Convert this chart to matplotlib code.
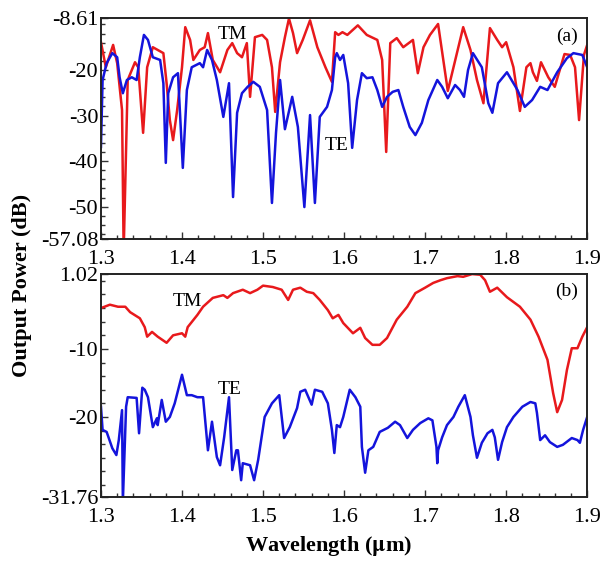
import matplotlib
matplotlib.use("Agg")
import matplotlib.pyplot as plt
from matplotlib.ticker import MultipleLocator, FixedLocator

# ---- panel (a): output power spectra ----
wl_a_tm = [1.300, 1.306, 1.315, 1.320, 1.326, 1.328, 1.333, 1.342, 1.346, 1.352,
           1.357, 1.364, 1.370, 1.377, 1.381, 1.385, 1.389, 1.394, 1.400, 1.404,
           1.410, 1.414, 1.422, 1.428, 1.432, 1.438, 1.447, 1.456, 1.462, 1.468,
           1.474, 1.480, 1.484, 1.490, 1.499, 1.505, 1.511, 1.515, 1.521, 1.527,
           1.532, 1.537, 1.542, 1.549, 1.558, 1.567, 1.577, 1.585, 1.589, 1.593,
           1.598, 1.604, 1.617, 1.628, 1.641, 1.647, 1.652, 1.657, 1.665, 1.673,
           1.685, 1.691, 1.698, 1.706, 1.716, 1.728, 1.747, 1.756, 1.764, 1.772,
           1.780, 1.789, 1.795, 1.800, 1.809, 1.817, 1.825, 1.830, 1.833, 1.838,
           1.843, 1.852, 1.860, 1.872, 1.879, 1.885, 1.890, 1.896, 1.900]
pw_a_tm = [-13.9, -19.4, -14.5, -18.5, -28.8, -60.0, -22.2, -18.3, -19.4, -33.8,
           -19.4, -15.0, -15.6, -16.3, -22.9, -31.0, -35.4, -28.8, -19.4, -10.6,
           -13.4, -17.8, -15.6, -15.0, -11.9, -17.8, -20.5, -15.6, -14.1, -16.3,
           -17.2, -14.1, -25.9, -12.8, -12.3, -13.4, -19.4, -29.2, -18.3, -12.8,
           -8.7, -11.9, -16.3, -13.4, -9.1, -15.0, -19.4, -22.6, -11.7, -12.3,
           -11.7, -12.3, -10.2, -12.3, -13.4, -17.8, -38.0, -14.1, -13.0, -15.0,
           -13.4, -20.7, -15.0, -12.3, -9.9, -24.6, -10.6, -15.6, -22.2, -27.3,
           -10.8, -13.4, -15.0, -13.9, -19.4, -29.0, -19.4, -18.5, -20.5, -22.4,
           -18.3, -21.6, -23.7, -16.5, -16.7, -19.4, -31.0, -16.7, -14.5]

wl_a_te = [1.300, 1.302, 1.307, 1.314, 1.320, 1.323, 1.327, 1.332, 1.338, 1.344,
           1.348, 1.353, 1.358, 1.364, 1.373, 1.377, 1.380, 1.383, 1.389, 1.395,
           1.401, 1.406, 1.412, 1.422, 1.426, 1.431, 1.437, 1.443, 1.451, 1.458,
           1.463, 1.468, 1.474, 1.481, 1.488, 1.496, 1.505, 1.511, 1.516, 1.521,
           1.527, 1.536, 1.543, 1.551, 1.558, 1.564, 1.570, 1.579, 1.585, 1.589,
           1.591, 1.595, 1.599, 1.605, 1.610, 1.616, 1.622, 1.628, 1.635, 1.641,
           1.647, 1.653, 1.660, 1.667, 1.673, 1.681, 1.688, 1.696, 1.704, 1.715,
           1.721, 1.728, 1.737, 1.743, 1.748, 1.753, 1.759, 1.770, 1.778, 1.783,
           1.790, 1.801, 1.814, 1.823, 1.832, 1.842, 1.851, 1.863, 1.875, 1.883,
           1.894, 1.900]
pw_a_te = [-36.9, -22.2, -18.5, -16.3, -17.2, -21.6, -25.1, -22.2, -21.6, -22.2,
           -17.2, -12.3, -13.4, -17.2, -17.8, -22.9, -40.4, -25.1, -21.6, -20.7,
           -41.5, -24.4, -19.4, -18.5, -19.4, -15.6, -17.8, -22.2, -30.3, -22.9,
           -47.9, -29.4, -25.1, -23.7, -22.6, -23.7, -28.8, -49.2, -33.8, -22.2,
           -33.0, -25.9, -32.5, -50.1, -29.9, -49.2, -30.3, -28.1, -24.4, -17.2,
           -16.3, -17.8, -16.7, -22.9, -37.1, -26.6, -20.7, -21.8, -21.6, -24.4,
           -28.1, -25.9, -24.8, -24.4, -28.1, -32.5, -34.3, -31.6, -26.6, -22.2,
           -23.7, -26.2, -23.3, -24.4, -25.9, -20.0, -16.3, -19.4, -27.3, -29.4,
           -22.9, -20.5, -24.4, -28.1, -26.6, -23.7, -24.4, -20.5, -17.4, -16.3,
           -16.7, -19.4]

# ---- panel (b): output power spectra ----
wl_b_tm = [1.300, 1.311, 1.321, 1.330, 1.336, 1.348, 1.354, 1.357, 1.363, 1.370,
           1.381, 1.389, 1.400, 1.404, 1.407, 1.419, 1.426, 1.438, 1.451, 1.456,
           1.463, 1.475, 1.484, 1.493, 1.500, 1.512, 1.523, 1.531, 1.537, 1.546,
           1.554, 1.562, 1.570, 1.580, 1.586, 1.593, 1.599, 1.611, 1.620, 1.626,
           1.635, 1.644, 1.653, 1.665, 1.678, 1.688, 1.700, 1.710, 1.719, 1.727,
           1.740, 1.747, 1.758, 1.768, 1.774, 1.780, 1.789, 1.801, 1.817, 1.830,
           1.840, 1.851, 1.858, 1.863, 1.869, 1.875, 1.881, 1.888, 1.894, 1.900]
pw_b_tm = [-4.0, -3.5, -3.8, -3.8, -4.6, -5.5, -6.8, -8.2, -7.5, -8.2,
           -9.1, -8.0, -7.7, -8.2, -6.8, -5.0, -3.8, -2.5, -2.1, -2.5,
           -1.8, -1.3, -1.8, -1.3, -0.7, -0.9, -1.3, -2.8, -1.3, -1.0,
           -1.6, -1.8, -2.8, -4.3, -5.5, -5.0, -6.2, -7.7, -6.9, -8.4,
           -9.4, -9.4, -8.4, -5.7, -3.8, -1.8, -1.0, -0.3, 0.1, 0.4,
           0.7, 0.6, 1.0, 0.9, 0.1, -1.6, -1.0, -2.4, -3.8, -5.7,
           -8.2, -11.6, -16.5, -19.3, -17.5, -13.1, -9.9, -9.9, -8.2, -6.8]

wl_b_te = [1.300, 1.302, 1.307, 1.314, 1.319, 1.322, 1.326, 1.327, 1.331, 1.333,
           1.344, 1.347, 1.351, 1.354, 1.358, 1.364, 1.369, 1.370, 1.375, 1.380,
           1.385, 1.391, 1.400, 1.406, 1.412, 1.419, 1.426, 1.432, 1.437, 1.443,
           1.447, 1.452, 1.458, 1.462, 1.467, 1.469, 1.473, 1.475, 1.484, 1.489,
           1.494, 1.502, 1.511, 1.520, 1.526, 1.533, 1.542, 1.546, 1.552, 1.556,
           1.560, 1.564, 1.573, 1.580, 1.585, 1.588, 1.591, 1.595, 1.599, 1.607,
           1.614, 1.620, 1.622, 1.626, 1.630, 1.636, 1.644, 1.654, 1.663, 1.669,
           1.678, 1.685, 1.694, 1.704, 1.709, 1.714, 1.715, 1.716, 1.721, 1.727,
           1.735, 1.741, 1.749, 1.756, 1.759, 1.764, 1.770, 1.777, 1.783, 1.786,
           1.790, 1.795, 1.801, 1.809, 1.820, 1.830, 1.836, 1.838, 1.842, 1.848,
           1.854, 1.863, 1.870, 1.881, 1.888, 1.891, 1.895, 1.900]
pw_b_te = [-18.5, -21.9, -22.2, -24.6, -25.6, -23.4, -19.0, -32.5, -18.5, -17.1,
           -17.2, -22.4, -15.7, -16.0, -17.1, -21.5, -20.2, -21.2, -17.5, -20.7,
           -20.0, -18.0, -13.8, -16.8, -16.8, -17.1, -17.1, -24.9, -20.7, -25.9,
           -27.1, -23.0, -17.1, -27.8, -24.9, -24.9, -29.3, -26.8, -27.1, -29.3,
           -26.3, -20.0, -18.0, -16.8, -23.1, -21.5, -18.7, -16.3, -16.0, -17.1,
           -18.2, -16.0, -16.3, -18.0, -21.9, -25.3, -21.2, -21.5, -20.0, -16.0,
           -17.1, -18.5, -24.4, -28.2, -24.9, -24.4, -22.2, -21.6, -20.7, -21.2,
           -23.1, -21.9, -20.9, -20.2, -20.5, -24.4, -26.8, -24.9, -23.0, -21.2,
           -20.0, -18.5, -16.8, -20.0, -22.7, -26.0, -23.8, -22.4, -21.9, -23.0,
           -26.3, -23.7, -21.5, -20.0, -18.5, -17.8, -18.0, -19.4, -23.4, -22.7,
           -23.7, -24.4, -24.1, -23.1, -23.4, -23.8, -21.9, -20.0]

x_ticks = [1.3, 1.4, 1.5, 1.6, 1.7, 1.8, 1.9]
x_ticklabels = ["1.3", "1.4", "1.5", "1.6", "1.7", "1.8", "1.9"]
y_ticks_a = [-8.61, -20, -30, -40, -50, -57.08]
y_ticklabels_a = ["-8.61", "-20", "-30", "-40", "-50", "-57.08"]
y_ticks_b = [1.02, -10, -20, -31.76]
y_ticklabels_b = ["1.02", "-10", "-20", "-31.76"]

RED = "#e8191c"
BLUE = "#1414dc"

plt.rcParams["font.family"] = ["Liberation Serif", "DejaVu Serif"]
plt.rcParams["mathtext.fontset"] = "stix"

fig = plt.figure(figsize=(6.01, 5.66), dpi=100)
ax_a = fig.add_axes([0.168, 0.578, 0.809, 0.390])
ax_b = fig.add_axes([0.168, 0.122, 0.809, 0.394])


def style_axes(ax, yticks, ylabels, ylim):
    ax.set_xlim(1.3, 1.9)
    ax.set_ylim(*ylim)
    ax.xaxis.set_major_locator(FixedLocator(x_ticks))
    ax.set_xticklabels(x_ticklabels)
    ax.xaxis.set_minor_locator(MultipleLocator(0.02))
    ax.yaxis.set_major_locator(FixedLocator(yticks))
    ax.set_yticklabels(ylabels)
    ax.yaxis.set_minor_locator(MultipleLocator(2))
    ax.tick_params(which="both", direction="in", top=False, right=False,
                   labelsize=16, width=1.0, color="#333333")
    ax.tick_params(which="major", length=5)
    ax.tick_params(which="minor", length=3)
    ax.tick_params(axis="y", pad=2)
    ax.tick_params(axis="x", pad=8)
    for s in ax.spines.values():
        s.set_linewidth(1.4)
        s.set_color("#222222")


ax_a.plot(wl_a_tm, pw_a_tm, color=RED, lw=1.8, solid_joinstyle="round")
ax_a.plot(wl_a_te, pw_a_te, color=BLUE, lw=1.8, solid_joinstyle="round")
style_axes(ax_a, y_ticks_a, y_ticklabels_a, (-57.08, -8.61))
ax_a.text(1.462, -12.3, "TM", fontsize=14, ha="center", va="center")
ax_a.text(1.591, -36.5, "TE", fontsize=14, ha="center", va="center")
ax_a.text(1.875, -12.6, "(a)", fontsize=14, ha="center", va="center")

ax_b.plot(wl_b_tm, pw_b_tm, color=RED, lw=1.8, solid_joinstyle="round")
ax_b.plot(wl_b_te, pw_b_te, color=BLUE, lw=1.8, solid_joinstyle="round")
style_axes(ax_b, y_ticks_b, y_ticklabels_b, (-31.76, 1.02))
ax_b.text(1.407, -3.1, "TM", fontsize=14, ha="center", va="center")
ax_b.text(1.459, -16.0, "TE", fontsize=14, ha="center", va="center")
ax_b.text(1.875, -1.6, "(b)", fontsize=14, ha="center", va="center")

fig.text(0.036, 0.496, "Output Power (dB)", rotation=90, fontsize=16,
         fontweight="bold", ha="center", va="center")
fig.text(0.547, 0.035, "Wavelength ($\\mathbf{\\mu}$m)", fontsize=16,
         fontweight="bold", ha="center", va="center")

fig.savefig("out.png", dpi=100)
